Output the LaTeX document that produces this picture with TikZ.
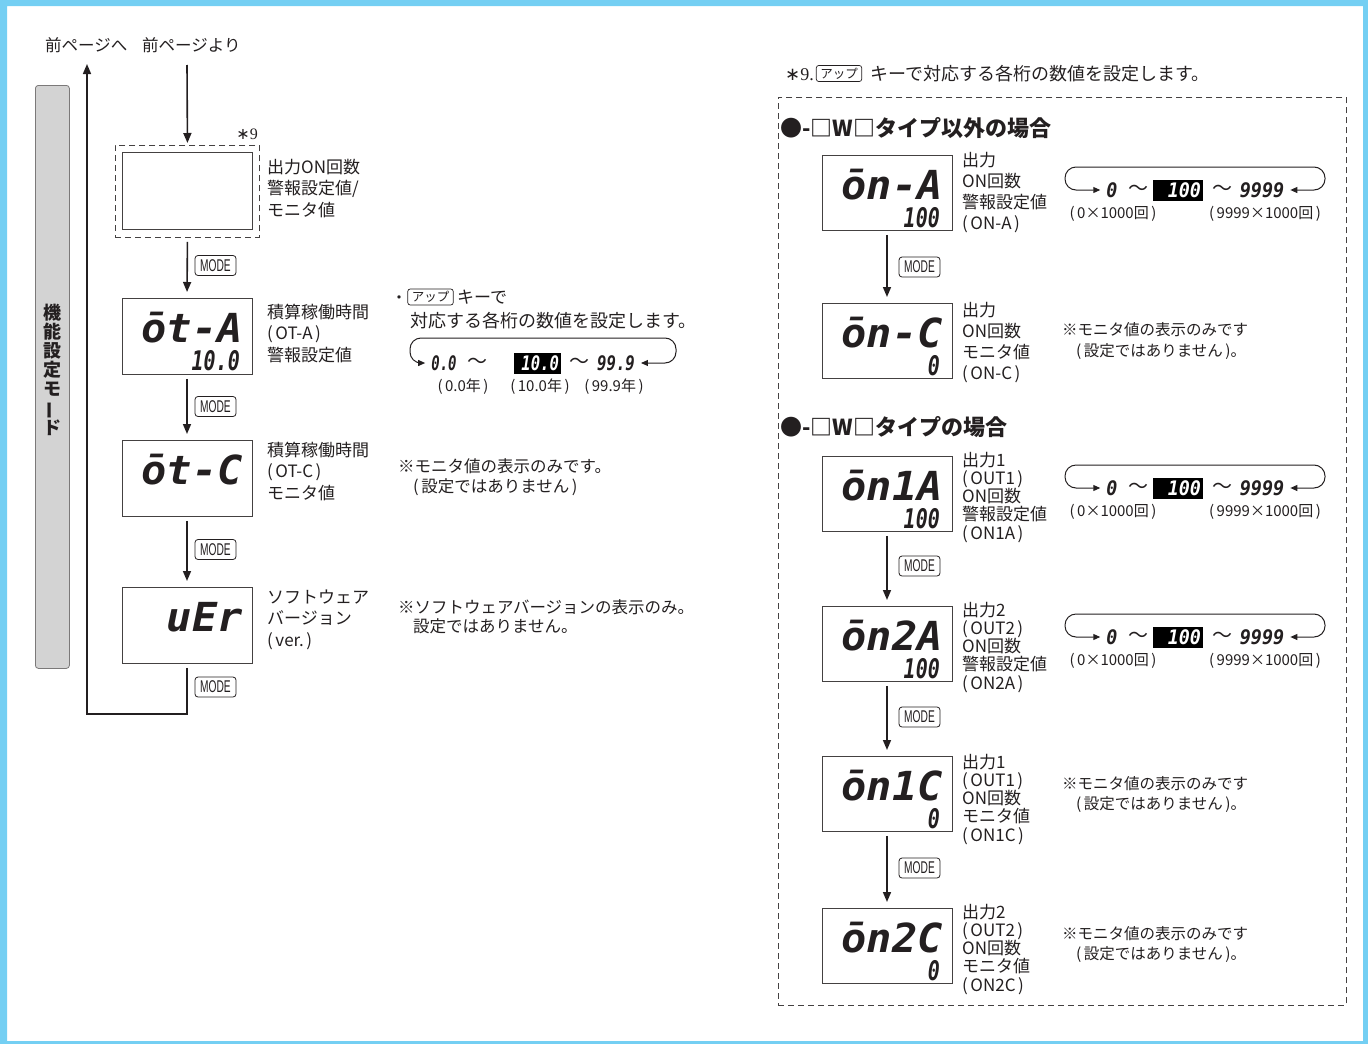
\documentclass[tikz,border=0pt]{standalone}
\usepackage{fontspec}
\setmainfont{Noto Sans CJK JP}
\newfontfamily\segfont{DejaVu Sans Mono}
\newfontfamily\keyfont{Liberation Sans}
\newfontfamily\latserif{Liberation Serif}
\newfontfamily\djv{DejaVu Sans}
\usetikzlibrary{arrows.meta}
\definecolor{frameblue}{HTML}{74CFF3}
\definecolor{bargray}{HTML}{D3D3D3}
\definecolor{ink}{HTML}{231F20}
\newcommand\segtxt[3]{\scalebox{#2}[1]{\segfont\bfseries\itshape\fontsize{#1}{#1}\selectfont #3}}
\newcommand\prn[1]{(\kern2.5pt#1\kern2.5pt)}
\newcommand\dispbox[6]{%
  \node[disp, minimum height=#4pt] (#1) at (#2,#3) {};
  \node[segtop] (#1t) at (#2+56,#3+44) {\segtxt{40}{1.05}{#5}};
  \node[segbot] (#1b) at (#2+53,#3+72) {\segtxt{27}{0.74}{#6}};
}
\newcommand\valloop[2]{%
  \node[rowval] (#1a) at (1112,#2) {\segtxt{20}{0.92}{0}};
  \node[wave] (#1w) at (1138,#2) {〜};
  \node[hibox] (#1h) at (1178,#2) {\segtxt{20}{0.92}{100}};
  \node[wave] (#1v) at (1222,#2) {〜};
  \node[rowval] (#1z) at (1262,#2) {\segtxt{20}{0.92}{9999}};
  \draw[loopar] ([xshift=-6pt]#1a.west) -- (1065,#2) -- (1065,#2-23) -- (1325,#2-23) -- (1325,#2) -- ([xshift=6pt]#1z.east);
  \node[sub] (#1s) at (1113,#2+28) {\prn{0×1000回}};
  \node[sub] (#1r) at (1265,#2+28) {\prn{9999×1000回}};
}
\begin{document}
\begin{tikzpicture}[x=1pt,y=-1pt,
  every node/.style={inner sep=0pt, text=ink},
  disp/.style={draw=ink!85, line width=0.9pt, minimum width=130pt, anchor=north},
  flow/.style={draw=ink, line width=1.6pt, -{Triangle[width=8pt,length=10pt]}, shorten <=4pt, shorten >=6pt},
  modekey/.style={draw=ink, line width=0.8pt, rounded corners=3pt, minimum width=41pt, minimum height=20pt, font=\keyfont\fontsize{17}{17}\selectfont},
  upkey/.style={draw=ink, line width=0.7pt, rounded corners=2.5pt, inner xsep=4pt, minimum height=16pt, font=\fontsize{12.5}{12.5}\selectfont},
  lbl/.style={anchor=base west, font=\fontsize{17}{17}\selectfont},
  note/.style={anchor=base west, font=\fontsize{16.5}{16.5}\selectfont},
  rnote/.style={anchor=base west, font=\fontsize{15.5}{15.5}\selectfont},
  sub/.style={anchor=base, font=\fontsize{15}{15}\selectfont},
  segtop/.style={anchor=base east},
  segbot/.style={anchor=base east},
  rowval/.style={anchor=center},
  wave/.style={anchor=center, font=\fontsize{20}{20}\selectfont},
  hibox/.style={fill=black, minimum width=50pt, minimum height=21pt, inner xsep=2pt, text width=46pt, align=right, text=white},
  loopar/.style={draw=ink, line width=1pt, rounded corners=11pt, {Triangle[width=6pt,length=7pt]}-{Triangle[width=6pt,length=7pt]}},
  head/.style={anchor=base west, font=\bfseries\fontsize{22}{22}\selectfont},
  dbox/.style={draw=ink!85, line width=0.9pt, dash pattern=on 6pt off 4pt}
]
\useasboundingbox (0,0) rectangle (1368,1044);
\fill[frameblue, even odd rule] (0,0) rectangle (1368,1044) (7,6) rectangle (1363,1041);

% top texts
\node[anchor=base west, font=\fontsize{16.5}{16.5}\selectfont] (prevto) at (45,51) {前ページへ};
\node[anchor=base west, font=\fontsize{16.5}{16.5}\selectfont] (prevfrom) at (142,51) {前ページより};

% gray bar
\node[draw=ink!60, fill=bargray, rounded corners=3pt, line width=0.8pt, minimum width=34pt, minimum height=583pt, anchor=north west] (bar) at (35,85) {};
\node[align=center, font=\bfseries\fontsize{18}{19}\selectfont] (bartxt) at (52,370) {機\\能\\設\\定\\モ\\\rotatebox[origin=c]{90}{ー}\\ド};

% left column
\coordinate (topin) at (187,65);
\node[dbox, minimum width=144pt, minimum height=92pt, anchor=north west] (d0) at (115,145) {};
\node[disp, minimum height=77pt] (d0in) at (187,152) {};
\node[anchor=base east, font=\latserif\fontsize{16}{16}\selectfont] (ast9) at (258,139) {{\djv ∗}9};
\draw[flow, shorten <=0pt, shorten >=2pt] (topin) -- (d0.north);

\dispbox{d1}{187}{298}{76}{ōt-A}{10.0}
\dispbox{d2}{187}{440}{76}{ōt-C}{}
\dispbox{d3}{187}{587}{76}{uEr}{}

\draw[flow] (d0.south) -- (d1.north);
\draw[flow] (d1.south) -- (d2.north);
\draw[flow] (d2.south) -- (d3.north);
\coordinate (retc) at (187,714);
\coordinate (retl) at (87,714);
\coordinate (retup) at (87,64);
\draw[draw=ink, line width=1.6pt, -{Triangle[width=8pt,length=10pt]}, shorten <=4pt] (d3.south) -- (retc) -- (retl) -- (retup);

\node[modekey] (m1) at (215.5,265.5) {\scalebox{0.6}[1]{MODE}};
\node[modekey] (m2) at (215.5,406.5) {\scalebox{0.6}[1]{MODE}};
\node[modekey] (m3) at (215.5,549.5) {\scalebox{0.6}[1]{MODE}};
\node[modekey] (m4) at (215.5,687) {\scalebox{0.6}[1]{MODE}};

\foreach \t [count=\i from 0] in {出力ON回数,警報設定値/,モニタ値}
  \node[lbl] (la\i) at (267,173+21.5*\i) {\t};
\foreach \t [count=\i from 0] in {積算稼働時間,\prn{OT-A},警報設定値}
  \node[lbl] (lb\i) at (267,318+21.5*\i) {\t};
\foreach \t [count=\i from 0] in {積算稼働時間,\prn{OT-C},モニタ値}
  \node[lbl] (lc\i) at (267,456+21.5*\i) {\t};
\foreach \t [count=\i from 0] in {ソフトウェア,バージョン,\prn{ver.}}
  \node[lbl] (ld\i) at (267,603+21.5*\i) {\t};

% middle
\node[anchor=base west, font=\fontsize{16}{16}\selectfont] (dot) at (391,303) {・};
\node[upkey] (upk1) at (430.5,297) {アップ};
\node[anchor=base west, font=\fontsize{17}{17}\selectfont] (upt1) at (457,303) {キーで};
\node[anchor=base west, font=\fontsize{18}{18}\selectfont] (upt2) at (410,327) {対応する各桁の数値を設定します。};

\node[rowval] (ma) at (444,363) {\segtxt{20}{0.7}{0.0}};
\node[wave] (mw) at (477,363) {〜};
\node[hibox, minimum width=47pt, text width=43pt] (mh) at (537.5,363) {\segtxt{20}{0.78}{10.0}};
\node[wave] (mv) at (579,363) {〜};
\node[rowval] (mz) at (616,363) {\segtxt{20}{0.78}{99.9}};
\draw[loopar] ([xshift=-6pt]ma.west) -- (410,363) -- (410,338) -- (676,338) -- (676,363) -- ([xshift=6pt]mz.east);
\node[sub] (ms1) at (463,391) {\prn{0.0年}};
\node[sub] (ms2) at (540,391) {\prn{10.0年}};
\node[sub] (ms3) at (614,391) {\prn{99.9年}};

\node[note] (n1a) at (398,472) {※モニタ値の表示のみです。};
\node[note] (n1b) at (413,492) {\prn{設定ではありません}};
\node[note] (n2a) at (398,613) {※ソフトウェアバージョンの表示のみ。};
\node[note] (n2b) at (413,632) {設定ではありません。};

% right header
\node[anchor=base west, font=\latserif\fontsize{18}{18}\selectfont] (rh9) at (785,80) {{\djv ∗}9.};
\node[upkey] (upk2) at (839,73.5) {アップ};
\node[anchor=base west, font=\fontsize{18}{18}\selectfont] (rht) at (870,80) {キーで対応する各桁の数値を設定します。};

\node[dbox, minimum width=568pt, minimum height=908pt, anchor=north west] (rbox) at (778,97) {};
\node[head] (h1) at (780,136) {●-□W□タイプ以外の場合};
\node[head] (h2) at (780,435) {●-□W□タイプの場合};

\dispbox{r1}{887}{155}{75}{ōn-A}{100}
\dispbox{r2}{887}{303}{75}{ōn-C}{0}
\dispbox{r3}{887}{456}{75}{ōn1A}{100}
\dispbox{r4}{887}{606}{75}{ōn2A}{100}
\dispbox{r5}{887}{756}{75}{ōn1C}{0}
\dispbox{r6}{887}{908}{75}{ōn2C}{0}

\draw[flow] (r1.south) -- (r2.north);
\draw[flow] (r3.south) -- (r4.north);
\draw[flow] (r4.south) -- (r5.north);
\draw[flow] (r5.south) -- (r6.north);
\node[modekey] (rm1) at (919.5,267) {\scalebox{0.6}[1]{MODE}};
\node[modekey] (rm2) at (919.5,566) {\scalebox{0.6}[1]{MODE}};
\node[modekey] (rm3) at (919.5,717) {\scalebox{0.6}[1]{MODE}};
\node[modekey] (rm4) at (919.5,868) {\scalebox{0.6}[1]{MODE}};

\foreach \t [count=\i from 0] in {出力,ON回数,警報設定値,\prn{ON-A}}
  \node[lbl] (ra\i) at (962,166+21.3*\i) {\t};
\foreach \t [count=\i from 0] in {出力,ON回数,モニタ値,\prn{ON-C}}
  \node[lbl] (rb\i) at (962,316+21*\i) {\t};
\foreach \t [count=\i from 0] in {出力1,\prn{OUT1},ON回数,警報設定値,\prn{ON1A}}
  \node[lbl] (rc\i) at (962,466+18.3*\i) {\t};
\foreach \t [count=\i from 0] in {出力2,\prn{OUT2},ON回数,警報設定値,\prn{ON2A}}
  \node[lbl] (rd\i) at (962,616+18.3*\i) {\t};
\foreach \t [count=\i from 0] in {出力1,\prn{OUT1},ON回数,モニタ値,\prn{ON1C}}
  \node[lbl] (re\i) at (962,768+18.3*\i) {\t};
\foreach \t [count=\i from 0] in {出力2,\prn{OUT2},ON回数,モニタ値,\prn{ON2C}}
  \node[lbl] (rf\i) at (962,918+18.3*\i) {\t};

\valloop{la}{190}
\valloop{lc}{488}
\valloop{ld}{637}

\node[rnote] (q1a) at (1062,335) {※モニタ値の表示のみです};
\node[rnote] (q1b) at (1076,356) {\prn{設定ではありません}。};
\node[rnote] (q2a) at (1062,789) {※モニタ値の表示のみです};
\node[rnote] (q2b) at (1076,809) {\prn{設定ではありません}。};
\node[rnote] (q3a) at (1062,939) {※モニタ値の表示のみです};
\node[rnote] (q3b) at (1076,959) {\prn{設定ではありません}。};
\end{tikzpicture}
\end{document}
